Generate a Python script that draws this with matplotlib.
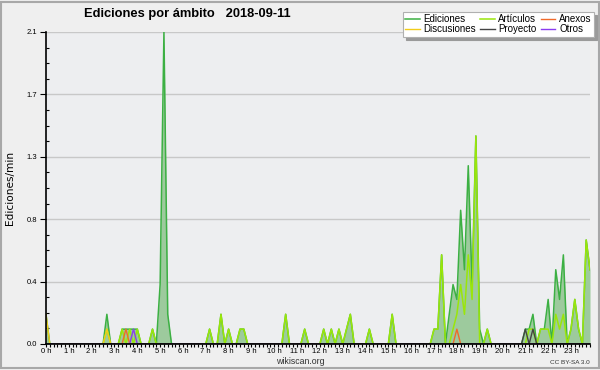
import matplotlib
matplotlib.use('Agg')
import matplotlib.pyplot as plt
from matplotlib.ticker import FixedLocator, MultipleLocator
from matplotlib.patches import Rectangle
from matplotlib import font_manager
import numpy as np

_names = {f.name for f in font_manager.fontManager.ttflist}
FONT = 'Liberation Sans' if 'Liberation Sans' in _names else 'DejaVu Sans'
plt.rcParams['font.family'] = [FONT, 'DejaVu Sans']

title = "Ediciones por ámbito   2018-09-11"
hours = list(range(24))
hour_labels = [f"{h} h" for h in hours]
y_ticks = [0.0, 0.42, 0.84, 1.26, 1.68, 2.1]
y_tick_labels = ["0.0", "0.4", "0.8", "1.3", "1.7", "2.1"]

# values every 10 minutes (edits/min), 12 values per line = 2 hours
ediciones = [
    0.2, 0, 0, 0, 0, 0,   0, 0, 0, 0, 0, 0,
    0, 0, 0, 0, 0.2, 0,   0, 0, 0.1, 0.1, 0.1, 0.1,
    0.1, 0, 0, 0, 0.1, 0,   0.4, 2.1, 0.2, 0, 0, 0,
    0, 0, 0, 0, 0, 0,   0, 0.1, 0, 0, 0.2, 0,
    0.1, 0, 0, 0.1, 0.1, 0,   0, 0, 0, 0, 0, 0,
    0, 0, 0, 0.2, 0, 0,   0, 0, 0.1, 0, 0, 0,
    0, 0.1, 0, 0.1, 0, 0.1,   0, 0.1, 0.2, 0, 0, 0,
    0, 0.1, 0, 0, 0, 0,   0, 0.2, 0, 0, 0, 0,
    0, 0, 0, 0, 0, 0,   0.1, 0.1, 0.6, 0, 0.2, 0.4,
    0.3, 0.9, 0.5, 1.2, 0.4, 1.4,   0.1, 0, 0.1, 0, 0, 0,
    0, 0, 0, 0, 0, 0,   0.1, 0.1, 0.2, 0, 0.1, 0.1,
    0.3, 0, 0.5, 0.3, 0.6, 0,   0.1, 0.3, 0.1, 0, 0.7, 0.5,
]
articulos = [
    0, 0, 0, 0, 0, 0,   0, 0, 0, 0, 0, 0,
    0, 0, 0, 0, 0.1, 0,   0, 0, 0.1, 0, 0.1, 0,
    0.1, 0, 0, 0, 0.1, 0,   0, 0, 0, 0, 0, 0,
    0, 0, 0, 0, 0, 0,   0, 0.1, 0, 0, 0.2, 0,
    0.1, 0, 0, 0.1, 0.1, 0,   0, 0, 0, 0, 0, 0,
    0, 0, 0, 0.2, 0, 0,   0, 0, 0.1, 0, 0, 0,
    0, 0.1, 0, 0.1, 0, 0.1,   0, 0.1, 0.2, 0, 0, 0,
    0, 0.1, 0, 0, 0, 0,   0, 0.2, 0, 0, 0, 0,
    0, 0, 0, 0, 0, 0,   0.1, 0.1, 0.6, 0, 0, 0.1,
    0.2, 0.4, 0.2, 0.6, 0.3, 1.4,   0, 0, 0.1, 0, 0, 0,
    0, 0, 0, 0, 0, 0,   0, 0.1, 0.1, 0, 0.1, 0.1,
    0.1, 0, 0.2, 0.1, 0.2, 0,   0.1, 0.3, 0.1, 0, 0.7, 0.5,
]
# sparse series: {slot index: value}, all other slots are zero
discusiones_pts = {0: 0.2, 16: 0.1}
anexos_pts = {21: 0.1, 108: 0.1}
proyecto_pts = {126: 0.1, 128: 0.1}
otros_pts = {23: 0.1}

n = len(ediciones)
def expand(pts):
    arr = np.zeros(n)
    for k, v in pts.items():
        arr[k] = v
    return arr

discusiones = expand(discusiones_pts)
anexos = expand(anexos_pts)
proyecto = expand(proyecto_pts)
otros = expand(otros_pts)
t = np.arange(n) / 6.0

W, H = 600, 370
fig = plt.figure(figsize=(W / 100, H / 100), dpi=100, facecolor='#efefef')
fig.patches.append(Rectangle((0.5 / W, 2.5 / H), (W - 2) / W, (H - 4) / H, transform=fig.transFigure,
                             fill=False, edgecolor='#a8a8a8', linewidth=1.5))
ax = fig.add_axes([46 / W, 1 - 344 / H, 544 / W, 312 / H])
ax.set_facecolor('#edeef0')
ax.set_xlim(0, t[-1])
ax.set_ylim(0, 2.1)

for yv in y_ticks[1:]:
    ax.axhline(yv, color='#c8c8c8', lw=1.0, zorder=0.5)

ax.fill_between(t, ediciones, color='#9dca9d', lw=0, zorder=1)
ax.plot(t, ediciones, color='#3cb043', lw=1.1, zorder=2, label='Ediciones')
ax.plot(t, articulos, color='#9ae60a', lw=1.1, zorder=2.1, label='Artículos')
ax.plot(t, anexos, color='#f06a2a', lw=1.0, zorder=2.2, label='Anexos')
ax.plot(t, discusiones, color='#f2cc1a', lw=1.0, zorder=2.15, label='Discusiones')
ax.plot(t, proyecto, color='#444444', lw=1.0, zorder=2.3, label='Proyecto')
ax.plot(t, otros, color='#8a3cf0', lw=1.0, zorder=2.25, label='Otros')

for s in ['top', 'right']:
    ax.spines[s].set_visible(False)
for s in ['left', 'bottom']:
    ax.spines[s].set_linewidth(1.2)
    ax.spines[s].set_color('black')
    ax.spines[s].set_zorder(5)

ax.yaxis.set_major_locator(FixedLocator(y_ticks))
ax.set_yticklabels(y_tick_labels)
ax.yaxis.set_minor_locator(MultipleLocator(0.105))
ax.tick_params(axis='y', which='major', direction='out', length=4.5, width=0.8, pad=2,
               labelsize=5.5, colors='black')
ax.tick_params(axis='y', which='minor', direction='in', length=2.5, width=0.8)

ax.xaxis.set_major_locator(FixedLocator(hours))
ax.set_xticklabels(hour_labels)
ax.xaxis.set_minor_locator(MultipleLocator(1 / 6))
ax.tick_params(axis='x', which='both', direction='out', length=2.2, width=0.8, pad=1,
               labelsize=5.5, colors='black')

ax.set_ylabel('Ediciones/min', fontsize=7.6, family=['DejaVu Sans'])
ax.yaxis.set_label_coords(-31 / 544, 0.5)

fig.text(187 / W, 1 - 14 / H, title, ha='center', va='center', fontsize=9.3, fontweight='bold')

handles, labels = ax.get_legend_handles_labels()
order = ['Ediciones', 'Discusiones', 'Artículos', 'Proyecto', 'Anexos', 'Otros']
hl = dict(zip(labels, handles))
leg = fig.legend([hl[k] for k in order], order, loc='upper right',
                 bbox_to_anchor=(594 / W, 1 - 11.5 / H), ncol=3, fontsize=7,
                 handlelength=1.5, handletextpad=0.4, columnspacing=0.4,
                 labelspacing=0.02, borderpad=0.25, borderaxespad=0,
                 frameon=True, fancybox=False,
                 shadow={'ox': 2.2, 'oy': -2.2, 'facecolor': '#9a9a9a', 'edgecolor': '#9a9a9a', 'alpha': 1})
leg.get_frame().set_edgecolor('#b0b0b0')
leg.get_frame().set_linewidth(0.8)
leg.get_frame().set_facecolor('white')

fig.text(300 / W, 1 - 361 / H, 'wikiscan.org', ha='center', va='center', fontsize=6.3, color='#333333')
fig.text(590 / W, 1 - 362 / H, 'CC BY-SA 3.0', ha='right', va='center', fontsize=4.6, color='#333333')

fig.savefig('out.png', dpi=100, facecolor=fig.get_facecolor())
